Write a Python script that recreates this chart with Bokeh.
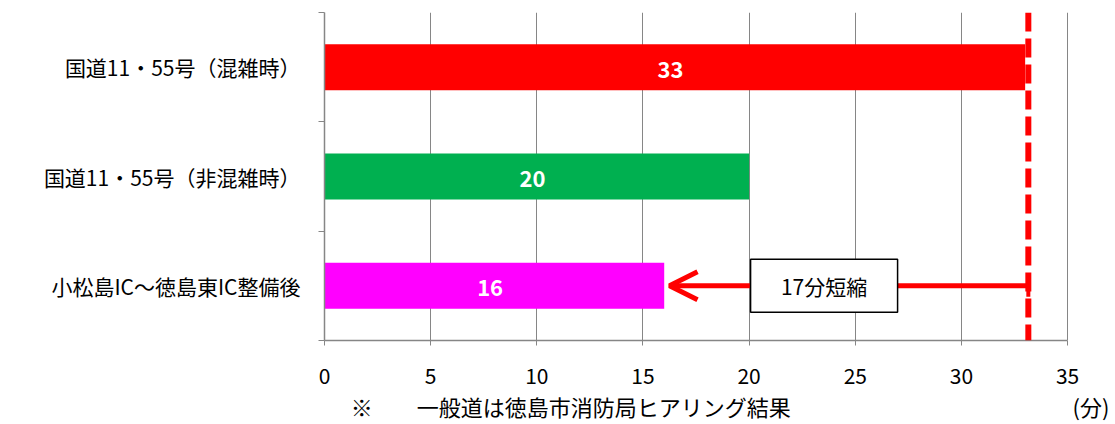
from bokeh.plotting import figure
from bokeh.models import Range1d, FixedTicker, Span, Arrow, OpenHead, TeeHead, LinearAxis
from bokeh.core.properties import value
from bokeh.embed import file_html
from bokeh.resources import INLINE

# ---- data ----
categories = ["国道11・55号（混雑時）", "国道11・55号（非混雑時）", "小松島IC～徳島東IC整備後"]
minutes = [33, 20, 16]
bar_colors = ["#FF0000", "#00B050", "#FF00FF"]
x_ticks = [0, 5, 10, 15, 20, 25, 30, 35]
reduction_label = "17分短縮"
unit_label = "(分)"
note_label = "※　　一般道は徳島市消防局ヒアリング結果"

JP = "Noto Sans CJK JP"
GRAY = "#868686"

n = len(categories)
ypos = [n - i - 0.5 for i in range(n)]
x_max = x_ticks[-1]

# frame extends a little beyond 35 so the unit label can sit to the right of the last tick
p = figure(width=1115, height=424, x_range=Range1d(0, 37.02), y_range=Range1d(0, n),
           output_backend="svg", toolbar_location=None,
           min_border_left=324, min_border_right=5, min_border_top=12, min_border_bottom=83)
p.outline_line_color = None
p.background_fill_color = "white"

# grid
p.xgrid.ticker = FixedTicker(ticks=x_ticks)
p.xgrid.grid_line_color = GRAY
p.xgrid.grid_line_width = 1
p.ygrid.visible = False

# x axis
xa = p.xaxis[0]
xa.ticker = FixedTicker(ticks=x_ticks)
xa.bounds = (0, x_max)
xa.axis_line_color = GRAY
xa.axis_line_width = 1.5
xa.major_tick_line_color = GRAY
xa.major_tick_out = 5
xa.major_tick_in = 0
xa.minor_tick_out = 0
xa.major_label_text_font = JP
xa.major_label_text_font_size = "21px"
xa.major_label_text_color = "black"
xa.major_label_standoff = 22

# secondary bottom "axis" carrying the note and the unit
note_x = 11.6
unit_x = 36.1
notes_axis = LinearAxis(ticker=FixedTicker(ticks=[note_x, unit_x]),
                        major_label_overrides={note_x: note_label, unit_x: unit_label})
notes_axis.axis_line_color = None
notes_axis.major_tick_line_color = None
notes_axis.minor_tick_line_color = None
notes_axis.major_tick_out = 0
notes_axis.major_tick_in = 0
notes_axis.minor_tick_out = 0
notes_axis.minor_tick_in = 0
notes_axis.major_label_text_font = JP
notes_axis.major_label_text_font_size = "22px"
notes_axis.major_label_text_color = "black"
notes_axis.major_label_standoff = 3
p.add_layout(notes_axis, "below")

# y axis
ya = p.yaxis[0]
ya.ticker = FixedTicker(ticks=ypos, minor_ticks=list(range(n + 1)))
ya.major_label_overrides = {y: c for y, c in zip(ypos, categories)}
ya.axis_line_color = GRAY
ya.axis_line_width = 1.5
ya.major_tick_out = 0
ya.major_tick_in = 0
ya.minor_tick_out = 6
ya.minor_tick_in = 0
ya.minor_tick_line_color = GRAY
ya.major_label_text_font = JP
ya.major_label_text_font_size = "21px"
ya.major_label_text_color = "black"
ya.major_label_standoff = 18

# bars
p.hbar(y=ypos, left=0, right=minutes, height=0.42, fill_color=bar_colors, line_color=None)
p.text(x=[m / 2 - 0.2 for m in minutes], y=ypos, text=[str(m) for m in minutes],
       text_color="white", text_font=value(JP), text_font_style="bold",
       text_font_size="22px", text_align="center", text_baseline="middle",
       y_offset=2)

# dashed reference line at the congested time
ref_x = minutes[0] + 0.15
p.add_layout(Span(location=ref_x, dimension="height", line_color="#FF0000",
                  line_width=6, line_dash="19 7"))

# arrow from congested time to new time
arrow_y = ypos[2]
p.add_layout(Arrow(x_start=ref_x, y_start=arrow_y, x_end=minutes[2] + 0.25, y_end=arrow_y,
                   line_color="#FF0000", line_width=5,
                   end=OpenHead(size=28, line_color="#FF0000", line_width=5),
                   start=TeeHead(size=22, line_color="#FF0000", line_width=4)))

box_x = 23.53
box = p.rect(x=[box_x], y=[arrow_y], width=147, height=53, width_units="screen",
             height_units="screen", fill_color="white", line_color="black", line_width=1.5)
box.level = "overlay"
bt = p.text(x=[box_x], y=[arrow_y], text=[reduction_label], text_font=value(JP),
            text_font_size="21px", text_color="black", text_align="center",
            text_baseline="middle")
bt.level = "overlay"

open("out.html", "w").write(file_html(p, INLINE))
